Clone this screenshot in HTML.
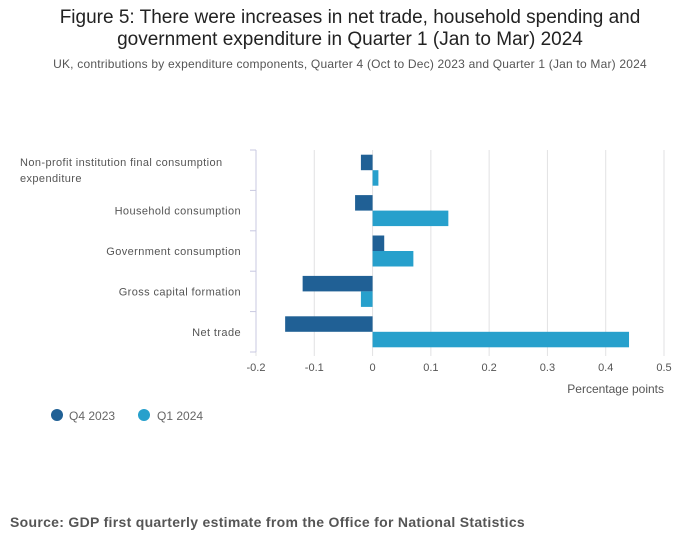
<!DOCTYPE html>
<html><head><meta charset="utf-8">
<style>
body{margin:0;background:#fff;font-family:"Liberation Sans",sans-serif;}
#wrap{position:relative;width:700px;height:549px;overflow:hidden;}
.t{position:absolute;width:700px;text-align:center;color:#222;}
</style></head><body>
<div id="wrap">
<div class="t" style="top:7px;font-size:19px;line-height:22px;">Figure 5: There were increases in net trade, household spending and<br>government expenditure in Quarter 1 (Jan to Mar) 2024</div>
<div class="t" style="top:57px;font-size:12px;letter-spacing:0.2px;color:#555;">UK, contributions by expenditure components, Quarter 4 (Oct to Dec) 2023 and Quarter 1 (Jan to Mar) 2024</div>
<svg id="chart" width="700" height="549" style="position:absolute;left:0;top:0"></svg>
<div style="position:absolute;left:10px;top:514px;font-size:14px;letter-spacing:0.3px;font-weight:bold;color:#555;">Source: GDP first quarterly estimate from the Office for National Statistics</div>
</div>
<script>
const categories=["Non-profit institution final consumption|expenditure","Household consumption","Government consumption","Gross capital formation","Net trade"];
const q4Values=[-0.02,-0.03,0.02,-0.12,-0.15];
const q1Values=[0.01,0.13,0.07,-0.02,0.44];
const tickValues=[-0.2,-0.1,0,0.1,0.2,0.3,0.4,0.5];
const tickLabels=["-0.2","-0.1","0","0.1","0.2","0.3","0.4","0.5"];
const seriesNames=["Q4 2023","Q1 2024"];
const svg=document.getElementById('chart');
const NS="http://www.w3.org/2000/svg";
const x0=256,x1=664,y0=150,y1=352;
const xs=v=>x0+(v-(-0.2))/(0.7)*(x1-x0);
const band=(y1-y0)/categories.length;
function mk(t,a){const e=document.createElementNS(NS,t);for(const k in a)e.setAttribute(k,a[k]);svg.appendChild(e);return e;}
tickValues.forEach((v,i)=>{
 const g=mk('line',{x1:xs(v),x2:xs(v),y1:y0,y2:y1+4,stroke:'#e2e2e3'});
 
 
 const t=mk('text',{x:xs(v),y:371,'text-anchor':'middle','font-size':11,fill:'#555'});
 t.textContent=tickLabels[i];
 
 
});
const ax=mk('line',{x1:x0,x2:x0,y1:y0,y2:y1,stroke:'#c8c8e0'});


for(let i=0;i<=categories.length;i++){
 const tk=mk('line',{x1:x0-6,x2:x0,y1:y0+i*band,y2:y0+i*band,stroke:'#c8c8e0'});
 
 
}
categories.forEach((c,i)=>{
 const lines=c.split('|');
 const cy=y0+i*band+band/2;
 lines.forEach((ln,j)=>{
  const t=mk('text',{x:lines.length>1?20:241,y:cy+4+(j-(lines.length-1)/2)*16,'text-anchor':lines.length>1?'start':'end','font-size':11,'letter-spacing':'0.4',fill:'#555'});
  t.textContent=ln;
  
  
 });
 const bh=15.5;
 [[q4Values[i],'#206095',0],[q1Values[i],'#27a0cc',1]].forEach(([v,col,k])=>{
  const xa=Math.min(xs(0),xs(v)),w=Math.abs(xs(v)-xs(0));
  const r=mk('rect',{x:xa,y:cy-bh+k*bh,width:w,height:bh,fill:col});
  
  
 });
});
const xt=mk('text',{x:664,y:393,'text-anchor':'end','font-size':12,fill:'#555'});
xt.textContent='Percentage points';


[['#206095',57,69],['#27a0cc',144,157]].forEach(([c,cx,tx],i)=>{
 const d=mk('circle',{cx:cx,cy:415,r:6,fill:c});
 
 
 const t=mk('text',{x:tx,y:420,'font-size':12,fill:'#666'});
 t.textContent=seriesNames[i];
 
 
});
</script>
</body></html>
